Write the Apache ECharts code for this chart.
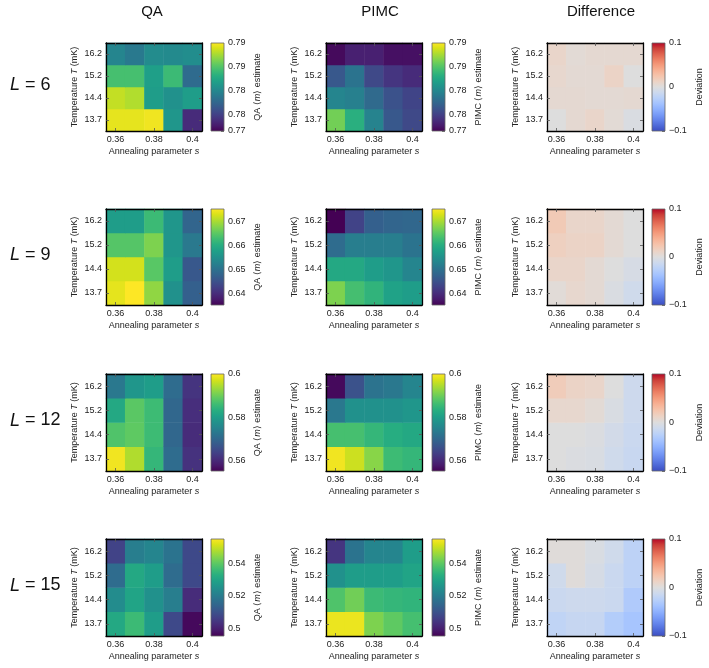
<!DOCTYPE html>
<html>
<head>
<meta charset="utf-8">
<script src="https://cdn.jsdelivr.net/npm/echarts@6/dist/echarts.min.js"></script>
<style>
html, body { margin: 0; padding: 0; background: #fff; }
#chart { width: 709px; height: 668px; }
</style>
</head>
<body>
<div id="chart"></div>
<script>
var sVals = ['0.36', '0.37', '0.38', '0.39', '0.4'];
var tVals = ['13.7', '14.4', '15.2', '16.2'];
var sizeLabels = ['6', '9', '12', '15'];
var colTitles = ['QA', 'PIMC', 'Difference'];

// rows follow tVals (13.7 first), columns follow sVals
var qa6 = [
	[0.7893, 0.7893, 0.7896, 0.7812, 0.7738],
	[0.7883, 0.7878, 0.7817, 0.7808, 0.7817],
	[0.7845, 0.7845, 0.7819, 0.7841, 0.7780],
	[0.7799, 0.7790, 0.7804, 0.7803, 0.7805]
];
var pimc6 = [
	[0.7860, 0.7832, 0.7797, 0.7766, 0.7756],
	[0.7799, 0.7795, 0.7779, 0.7762, 0.7753],
	[0.7766, 0.7786, 0.7756, 0.7744, 0.7738],
	[0.7720, 0.7731, 0.7731, 0.7723, 0.7723]
];
var diff6 = [
	[0.000, 0.006, 0.010, 0.004, -0.003],
	[0.006, 0.006, 0.005, 0.005, 0.006],
	[0.008, 0.005, 0.005, 0.012, 0.000],
	[0.010, 0.004, 0.006, 0.006, 0.006]
];
var qa9 = [
	[0.6737, 0.6753, 0.6685, 0.6552, 0.6472],
	[0.6725, 0.6725, 0.6648, 0.6572, 0.6460],
	[0.6645, 0.6645, 0.6673, 0.6560, 0.6512],
	[0.6572, 0.6572, 0.6624, 0.6560, 0.6480]
];
var pimc9 = [
	[0.6673, 0.6632, 0.6612, 0.6580, 0.6572],
	[0.6592, 0.6592, 0.6572, 0.6560, 0.6532],
	[0.6492, 0.6520, 0.6520, 0.6520, 0.6504],
	[0.6351, 0.6431, 0.6472, 0.6480, 0.6484]
];
var diff9 = [
	[0.003, 0.008, 0.005, -0.003, -0.010],
	[0.010, 0.010, 0.005, 0.000, -0.005],
	[0.015, 0.012, 0.012, 0.005, 0.000],
	[0.020, 0.010, 0.010, 0.005, 0.000]
];
var qa12 = [
	[0.5991, 0.5946, 0.5848, 0.5709, 0.5615],
	[0.5875, 0.5888, 0.5857, 0.5700, 0.5606],
	[0.5821, 0.5884, 0.5857, 0.5700, 0.5610],
	[0.5731, 0.5785, 0.5798, 0.5709, 0.5619]
];
var pimc12 = [
	[0.5991, 0.5964, 0.5919, 0.5857, 0.5848],
	[0.5866, 0.5866, 0.5848, 0.5830, 0.5821],
	[0.5731, 0.5776, 0.5776, 0.5776, 0.5785],
	[0.5561, 0.5664, 0.5722, 0.5731, 0.5754]
];
var diff12 = [
	[0.000, -0.002, -0.004, -0.010, -0.015],
	[0.000, 0.000, -0.002, -0.008, -0.014],
	[0.008, 0.008, 0.004, -0.004, -0.012],
	[0.018, 0.012, 0.010, 0.000, -0.012]
];
var qa15 = [
	[0.5311, 0.5359, 0.5281, 0.5084, 0.4965],
	[0.5240, 0.5299, 0.5252, 0.5204, 0.5025],
	[0.5162, 0.5311, 0.5281, 0.5162, 0.5084],
	[0.5072, 0.5204, 0.5222, 0.5180, 0.5084]
];
var pimc15 = [
	[0.5532, 0.5532, 0.5431, 0.5401, 0.5371],
	[0.5383, 0.5419, 0.5359, 0.5347, 0.5341],
	[0.5252, 0.5281, 0.5281, 0.5281, 0.5299],
	[0.5043, 0.5180, 0.5222, 0.5222, 0.5281]
];
var diff15 = [
	[-0.020, -0.016, -0.016, -0.028, -0.035],
	[-0.014, -0.012, -0.012, -0.014, -0.030],
	[-0.010, 0.002, -0.006, -0.014, -0.022],
	[0.002, 0.002, -0.004, -0.010, -0.022]
];

// colour scale limits (QA and PIMC share one per row)
var cbMin = [0.7716, 0.6351, 0.5552, 0.4953];
var cbMax = [0.7900, 0.6753, 0.6000, 0.5550];
var cbTicks = [
	[0.7716, 0.775, 0.78, 0.785, 0.79],
	[0.64, 0.65, 0.66, 0.67],
	[0.56, 0.58, 0.6],
	[0.5, 0.52, 0.54]
];
var diffMin = -0.1, diffMax = 0.1;
var diffTicks = [-0.1, 0, 0.1];

var viridis = ['#440154', '#481a6c', '#472d7b', '#424086', '#3b528b', '#33638d', '#2c728e', '#26828e',
	'#21918c', '#1fa088', '#28ae80', '#3fbc73', '#5ec962', '#84d44b', '#addc30', '#d8e219', '#fde725'];
var coolwarm = ['#3b4cc0', '#4d68d7', '#6282ea', '#779af7', '#8db0fe', '#a3c2ff', '#b8d0f9', '#ccd9ee',
	'#dddddd', '#ecd3c5', '#f5c4ac', '#f7b194', '#f49a7b', '#ec7f63', '#de604d', '#cb3e38', '#b40426'];

var panels = [
	[qa6, pimc6, diff6],
	[qa9, pimc9, diff9],
	[qa12, pimc12, diff12],
	[qa15, pimc15, diff15]
];

// layout in px
var plotLeft = [106, 326, 547];
var cbLeft = [211, 432, 652];
var rowTop = [43, 209, 374, 539];
var rowH = [88, 96, 97, 97];
var plotW = 96, cbW = 13;
var font = 'Liberation Sans';
var txt = '#222';

function toCells(m) {
	var out = [];
	for (var i = 0; i < m.length; i++) {
		for (var j = 0; j < m[i].length; j++) {
			out.push([j, i, m[i][j]]);
		}
	}
	return out;
}

function gradient(colors) {
	var stops = [];
	for (var i = 0; i < colors.length; i++) {
		stops.push({ offset: i / (colors.length - 1), color: colors[colors.length - 1 - i] });
	}
	return { type: 'linear', x: 0, y: 0, x2: 0, y2: 1, colorStops: stops };
}

function fmtVal(v) {
	return String(parseFloat(v.toFixed(2)));
}
function fmtDiff(v) {
	if (v === 0) return '0';
	return v < 0 ? '\u2212' + Math.abs(v) : String(v);
}

var grid = [], xAxis = [], yAxis = [], series = [], visualMap = [], graphic = [];
var frameLine = { show: true, lineStyle: { color: '#000', width: 1.3 } };
var tickIn = { show: true, inside: true, alignWithLabel: true, length: 3, lineStyle: { color: '#555', width: 0.8 } };
var italicRich = { i: { fontStyle: 'italic', fontSize: 9, fontFamily: font, color: txt } };

for (var r = 0; r < 4; r++) {
	for (var c = 0; c < 3; c++) {
		var isDiff = c === 2;
		var lo = isDiff ? diffMin : cbMin[r];
		var hi = isDiff ? diffMax : cbMax[r];
		var cmap = isDiff ? coolwarm : viridis;

		// heatmap panel
		grid.push({ left: plotLeft[c], top: rowTop[r], width: plotW, height: rowH[r] });
		var gi = grid.length - 1;
		xAxis.push({
			gridIndex: gi, type: 'category', data: sVals, position: 'bottom', z: 10,
			axisLine: frameLine, axisTick: { show: true, inside: true, alignWithLabel: true, interval: 1, length: 3, lineStyle: { color: '#555', width: 0.8 } },
			axisLabel: { interval: 1, margin: 4, fontSize: 9, fontFamily: font, color: txt },
			splitLine: { show: false },
			name: 'Annealing parameter {i|s}', nameLocation: 'middle', nameGap: 16,
			nameTextStyle: { fontSize: 9, fontFamily: font, color: txt, rich: italicRich }
		});
		var xi = xAxis.length - 1;
		xAxis.push({
			gridIndex: gi, type: 'category', data: sVals, position: 'top', z: 10,
			axisLine: frameLine, axisTick: { show: true, inside: true, alignWithLabel: true, interval: 1, length: 3, lineStyle: { color: '#555', width: 0.8 } },
			axisLabel: { show: false }, splitLine: { show: false }
		});
		yAxis.push({
			gridIndex: gi, type: 'category', data: tVals, position: 'left', z: 10,
			axisLine: frameLine, axisTick: tickIn,
			axisLabel: { margin: 4, fontSize: 9, fontFamily: font, color: txt },
			splitLine: { show: false },
			name: 'Temperature {i|T} (mK)', nameLocation: 'middle', nameGap: 27,
			nameTextStyle: { fontSize: 9, fontFamily: font, color: txt, rich: italicRich }
		});
		var yi = yAxis.length - 1;
		yAxis.push({
			gridIndex: gi, type: 'category', data: tVals, position: 'right', z: 10,
			axisLine: frameLine, axisTick: tickIn, axisLabel: { show: false }, splitLine: { show: false }
		});
		series.push({
			type: 'heatmap', xAxisIndex: xi, yAxisIndex: yi, data: toCells(panels[r][c]),
			itemStyle: { borderWidth: 0 }, emphasis: { disabled: true }, progressive: 0
		});
		visualMap.push({
			type: 'continuous', show: false, seriesIndex: series.length - 1, dimension: 2,
			min: lo, max: hi, inRange: { color: cmap }
		});

		// colour bar
		grid.push({ left: cbLeft[c], top: rowTop[r], width: cbW, height: rowH[r] });
		var cg = grid.length - 1;
		xAxis.push({ gridIndex: cg, type: 'category', data: [''], show: false });
		var ticks = isDiff ? diffTicks : cbTicks[r];
		yAxis.push({
			gridIndex: cg, type: 'value', min: lo, max: hi, position: 'right',
			axisLine: { show: false },
			axisTick: { show: true, inside: true, length: 3, customValues: ticks, lineStyle: { color: '#555', width: 0.8 } },
			axisLabel: { customValues: ticks, formatter: isDiff ? fmtDiff : fmtVal, margin: 4, fontSize: 9, fontFamily: font, color: txt },
			splitLine: { show: false },
			name: isDiff ? 'Deviation' : colTitles[c] + ' \u27e8{i|m}\u27e9 estimate',
			nameLocation: 'middle', nameGap: isDiff ? 30 : 29,
			nameTextStyle: { fontSize: 9, fontFamily: font, color: txt, rich: italicRich }
		});
		series.push({
			type: 'custom', xAxisIndex: xAxis.length - 1, yAxisIndex: yAxis.length - 1,
			data: [[0, lo, hi]], silent: true,
			renderItem: (function (fill) {
				return function (params, api) {
					var top = api.coord([0, api.value(2)]);
					var bot = api.coord([0, api.value(1)]);
					var w = api.size([1, 0])[0];
					return {
						type: 'rect',
						shape: { x: top[0] - w / 2, y: top[1], width: w, height: bot[1] - top[1] },
						style: { fill: fill, stroke: '#666', lineWidth: 0.8 }
					};
				};
			})(gradient(cmap))
		});
	}
	graphic.push({
		type: 'text', left: 10, top: rowTop[r] + rowH[r] / 2 - 11,
		style: {
			text: '{i|L} = ' + sizeLabels[r], fontSize: 18, fontFamily: font, fill: '#111',
			rich: { i: { fontStyle: 'italic', fontSize: 18, fontFamily: font, color: '#111' } }
		}
	});
}

var titleX = [152, 380, 601];
for (var k = 0; k < 3; k++) {
	graphic.push({
		type: 'text', x: titleX[k], y: 12,
		style: { text: colTitles[k], fontSize: 15, fontFamily: font, fill: '#111', align: 'center', verticalAlign: 'middle' }
	});
}

var myChart = echarts.init(document.getElementById('chart'), null, { renderer: 'canvas' });
myChart.setOption({
	animation: false,
	backgroundColor: '#fff',
	grid: grid,
	xAxis: xAxis,
	yAxis: yAxis,
	visualMap: visualMap,
	series: series,
	graphic: graphic
});
</script>
</body>
</html>
